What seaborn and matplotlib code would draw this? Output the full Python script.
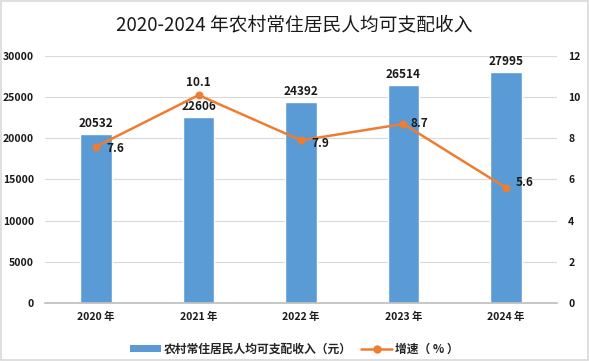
import matplotlib
matplotlib.use("Agg")
import matplotlib.pyplot as plt
import seaborn as sns
import pandas as pd
from matplotlib.lines import Line2D
from matplotlib.patches import Patch, Rectangle

years = ["2020 年", "2021 年", "2022 年", "2023 年", "2024 年"]
income = [20532, 22606, 24392, 26514, 27995]
growth = [7.6, 10.1, 7.9, 8.7, 5.6]
title = "2020-2024 年农村常住居民人均可支配收入"
bar_name = "农村常住居民人均可支配收入（元）"
line_name = "增速（ % ）"

sns.set_theme(style="white")
plt.rcParams['font.family'] = ['Noto Sans CJK SC', 'DejaVu Sans']

BLUE = "#5B9BD5"
ORANGE = "#ED7D31"

df = pd.DataFrame({"year": years, "income": income, "growth": growth})

fig = plt.figure(figsize=(5.89, 3.61), dpi=100)
ax = fig.add_axes([0.0764, 0.1607, 0.8693, 0.6842])
sns.barplot(data=df, x="year", y="income", color=BLUE, width=0.31, ax=ax, saturation=1)
ax.set_xlim(-0.5, 4.5)
ax.set_ylim(0, 30000)
ax.set_yticks(range(0, 30001, 5000))
ax.grid(axis="y", color="#D9D9D9", linewidth=0.8)
ax.set_axisbelow(True)
for s in ["top", "right", "left"]:
    ax.spines[s].set_visible(False)
ax.spines["bottom"].set_color("#BFBFBF")
ax.set_xlabel("")
ax.set_ylabel("")
ax.tick_params(axis="both", length=0, labelsize=7.5, colors="#1a1a1a")
ax.tick_params(axis="y", pad=8)
ax.tick_params(axis="x", pad=6)
for lab in ax.get_xticklabels() + ax.get_yticklabels():
    lab.set_fontweight("bold")

for i, v in enumerate(income):
    ax.text(i, v + 500, str(v), ha="center", va="bottom", fontsize=8.5,
            fontweight="bold", color="#1a1a1a")

ax2 = ax.twinx()
sns.lineplot(x=list(range(len(years))), y=growth, ax=ax2, color=ORANGE,
             marker="o", markersize=5, markeredgecolor=ORANGE, linewidth=1.8)
ax2.set_ylim(0, 12)
ax2.set_yticks(range(0, 13, 2))
for s in ["top", "right", "left", "bottom"]:
    ax2.spines[s].set_visible(False)
ax2.tick_params(axis="y", length=0, labelsize=7.5, colors="#1a1a1a", pad=8)
for lab in ax2.get_yticklabels():
    lab.set_fontweight("bold")
ax2.set_ylabel("")

offsets = [(0.1, -0.1, "left", "center"), (0, 0.3, "center", "bottom"),
           (0.1, -0.15, "left", "center"), (0.07, 0.0, "left", "center"),
           (0.1, 0.25, "left", "center")]
for i, v in enumerate(growth):
    dx, dy, ha, va = offsets[i]
    ax2.text(i + dx, v + dy, f"{v}", ha=ha, va=va, fontsize=8.5,
             fontweight="bold", color="#1a1a1a")

fig.text(0.5, 0.931, title, ha="center", va="center", fontsize=13.5, color="#1a1a1a")

handles = [Patch(facecolor=BLUE, edgecolor="none"),
           Line2D([0], [0], color=ORANGE, marker="o", markersize=5, linewidth=1.8)]
fig.legend(handles, [bar_name, line_name], loc="center", bbox_to_anchor=(0.5, 0.033),
           ncol=2, frameon=False, handlelength=2.6, handleheight=0.6,
           columnspacing=0.8, handletextpad=0.25, prop={"weight": "bold", "size": 8.5})

fig.patches.append(Rectangle((0.002, 0.003), 0.996, 0.994, transform=fig.transFigure,
                             fill=False, edgecolor="#D9D9D9", linewidth=1.2))
fig.savefig("out.png", dpi=100)
